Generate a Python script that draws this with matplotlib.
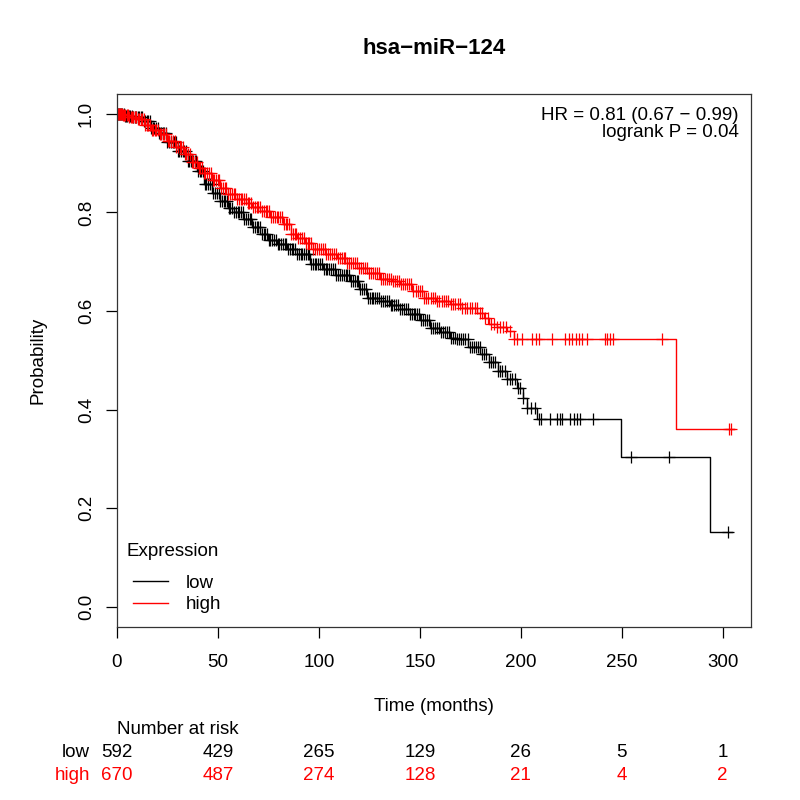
import numpy as np
import matplotlib
matplotlib.use("Agg")
import matplotlib.pyplot as plt
from matplotlib.lines import Line2D
from matplotlib.transforms import blended_transform_factory

plt.rcParams['font.family'] = ['Liberation Sans', 'DejaVu Sans']

# KM curve for "low" expression (black)
low_t = [0, 4, 8, 13, 17, 21, 25, 30, 35, 39.5, 43, 47, 51, 55, 58, 62.5, 67, 71, 75, 79,
         84, 89, 95.7, 102, 108, 115.5, 120, 124, 130, 135, 140, 145, 150, 155, 160, 165,
         168.5, 174, 180, 184, 188.5, 193, 198, 201, 203, 208, 249.5, 293.7, 304.8]
low_s = [1.0, 0.996, 0.993, 0.986, 0.972, 0.96, 0.943, 0.925, 0.905, 0.884, 0.857, 0.84,
         0.823, 0.808, 0.8, 0.787, 0.77, 0.756, 0.745, 0.736, 0.726, 0.716, 0.696, 0.686,
         0.674, 0.661, 0.645, 0.627, 0.62, 0.612, 0.604, 0.593, 0.582, 0.566, 0.558, 0.546,
         0.543, 0.528, 0.513, 0.496, 0.479, 0.462, 0.444, 0.424, 0.404, 0.381, 0.305, 0.152,
         0.152]

# KM curve for "high" expression (red)
high_t = [0, 3, 6, 10, 14, 17, 21, 25, 29, 33, 37, 40, 43, 47, 51, 55, 59.5, 64, 67, 71,
          76, 82, 86, 89, 93, 97, 103, 109, 114, 119, 124, 130.5, 136, 140, 146, 152, 158,
          165, 171, 178.5, 182, 184, 188, 193, 196.5, 277, 305.5]
high_s = [1.0, 0.997, 0.994, 0.99, 0.978, 0.968, 0.959, 0.945, 0.932, 0.919, 0.902, 0.89,
          0.88, 0.865, 0.85, 0.838, 0.828, 0.818, 0.81, 0.803, 0.79, 0.777, 0.757, 0.749,
          0.737, 0.726, 0.716, 0.708, 0.698, 0.688, 0.678, 0.665, 0.66, 0.655, 0.64, 0.627,
          0.62, 0.615, 0.607, 0.596, 0.585, 0.574, 0.567, 0.56, 0.543, 0.361, 0.361]

# censoring times (dense band up to ~200 months, then sparse)
low_cens = [0.3, 0.8, 1.4, 2, 2.7, 3.3, 4, 4.6, 5.2, 6, 6.6, 7.3, 8, 8.7, 9.5, 10.2, 11,
            11.8, 12.5, 13.3, 14, 14.8, 15.5, 16.3, 17, 17.8, 18.5, 19.4, 20.2, 21, 21.8,
            22.6, 23.5, 24.3, 25, 25.9, 26.7, 27.5, 28.4, 29.2, 30, 30.9, 31.7, 32.5, 33.4,
            34.2, 35, 35.9, 36.7, 37.6, 38.4, 39.2, 40.1, 41, 41.8, 42.6, 43.5, 44.3, 45.2,
            46, 46.9, 47.7, 48.6, 49.4, 50.3, 51.1, 52, 52.8, 53.7, 54.5, 55.4, 56.2, 57.1,
            58, 58.8, 59.7, 60.5, 61.4, 62.2, 63.1, 64, 64.8, 65.7, 66.5, 67.4, 68.3, 69.1,
            70, 70.9, 71.7, 72.6, 73.5, 74.3, 75.2, 76, 76.9, 77.8, 78.6, 79.5, 80.4, 81.2,
            82.1, 83, 83.9, 84.7, 85.6, 86.5, 87.4, 88.2, 89.1, 90, 90.9, 91.8, 92.6, 93.5,
            94.4, 95.3, 96.2, 97, 97.9, 98.8, 99.7, 100.6, 101.5, 102.4, 103.3, 104.2, 105,
            106, 106.9, 107.8, 108.7, 109.6, 110.5, 111.4, 112.3, 113.2, 114.1, 115, 116,
            116.9, 117.8, 118.7, 119.6, 120.5, 121.5, 122.4, 123.3, 124.2, 125.2, 126.1,
            127, 128, 128.9, 129.8, 130.8, 131.7, 132.6, 133.6, 134.5, 135.5, 136.4, 137.3,
            138.3, 139.2, 140.2, 141.1, 142.1, 143, 144, 145, 145.9, 146.9, 147.8, 148.8,
            149.8, 150.7, 151.7, 152.7, 153.6, 154.6, 155.6, 156.6, 157.5, 158.5, 159.5,
            160.5, 161.5, 162.5, 163.5, 164.5, 165.5, 166.5, 167.5, 168.5, 169.5, 170.5,
            171.6, 172.6, 173.6, 174.6, 175.7, 176.7, 177.7, 178.8, 179.8, 180.9, 181.9,
            183, 184.1, 185.2, 186.3, 187.4, 188.5, 189.7, 190.8, 192, 193.2, 194.4, 195.7,
            197, 198.4, 199.8, 201.3, 203, 205, 207,
            208.9, 209.8, 214.4, 217.7, 219.3, 220.5, 224.6, 226.3, 228, 229.2, 235.9,
            254.4, 273.4, 302.8]
high_cens = [0.2, 0.6, 1, 1.5, 2, 2.5, 3, 3.6, 4.2, 4.8, 5.4, 6, 6.7, 7.4, 8.1, 8.8, 9.5,
             10.2, 11, 11.7, 12.5, 13.2, 14, 14.8, 15.5, 16.3, 17.1, 17.9, 18.7, 19.5, 20.3,
             21.1, 21.9, 22.7, 23.5, 24.4, 25.2, 26, 26.8, 27.7, 28.5, 29.3, 30.2, 31, 31.9,
             32.7, 33.6, 34.4, 35.3, 36.1, 37, 37.8, 38.7, 39.5, 40.4, 41.2, 42.1, 43, 43.8,
             44.7, 45.5, 46.4, 47.3, 48.1, 49, 49.9, 50.7, 51.6, 52.5, 53.3, 54.2, 55.1, 56,
             56.8, 57.7, 58.6, 59.5, 60.3, 61.2, 62.1, 63, 63.9, 64.7, 65.6, 66.5, 67.4,
             68.3, 69.2, 70, 70.9, 71.8, 72.7, 73.6, 74.5, 75.4, 76.3, 77.2, 78.1, 79, 79.9,
             80.8, 81.7, 82.6, 83.5, 84.4, 85.3, 86.2, 87.1, 88, 88.9, 89.8, 90.8, 91.7,
             92.6, 93.5, 94.4, 95.3, 96.3, 97.2, 98.1, 99, 100, 100.9, 101.8, 102.8, 103.7,
             104.6, 105.6, 106.5, 107.4, 108.4, 109.3, 110.3, 111.2, 112.2, 113.1, 114.1,
             115, 116, 116.9, 117.9, 118.9, 119.8, 120.8, 121.8, 122.7, 123.7, 124.7, 125.7,
             126.6, 127.6, 128.6, 129.6, 130.6, 131.6, 132.6, 133.6, 134.6, 135.6, 136.6,
             137.6, 138.6, 139.6, 140.7, 141.7, 142.7, 143.7, 144.8, 145.8, 146.8, 147.9,
             148.9, 150, 151, 152.1, 153.2, 154.2, 155.3, 156.4, 157.5, 158.6, 159.7,
             160.8, 161.9, 163, 164.1, 165.3, 166.4, 167.6, 168.7, 169.9, 171.1, 172.3,
             173.5, 174.7, 175.9, 177.2, 178.4, 179.7, 181, 182.3, 183.7, 185, 186.5, 188,
             189.5, 191, 192.7, 194.5,
             196.5, 198.2, 200.7, 205.6, 207.3, 208.9, 215.5, 222.1, 223.8, 225.4, 227.1,
             228.7, 230.4, 232.8, 241.5, 242.8, 244.1, 245.8, 270.1, 303, 304]

# number at risk table
risk_times = [0, 50, 100, 150, 200, 250, 300]
risk_low = [592, 429, 265, 129, 26, 5, 1]
risk_high = [670, 487, 274, 128, 21, 4, 2]

groups = ["low", "high"]
colors = ["black", "#FF0000"]
FS = 13.5

fig = plt.figure(figsize=(8, 8), dpi=100)
ax = fig.add_axes([117 / 800, 1 - 626.7 / 800, 634 / 800, 532.7 / 800])


def surv_at(t, ts, ss):
    idx = np.searchsorted(ts, t, side='right') - 1
    return np.asarray(ss)[idx]


for ts, ss, cens, col in [(low_t, low_s, low_cens, colors[0]),
                          (high_t, high_s, high_cens, colors[1])]:
    ax.plot(ts, ss, drawstyle='steps-post', color=col, lw=1)
    ax.plot(cens, surv_at(cens, ts, ss), ls='none', marker='+', color=col,
            markersize=9, mew=0.9)

ax.set_xlim(0, 314)
ax.set_ylim(-0.04, 1.04)
ax.set_xticks(risk_times)
ax.set_yticks([0, 0.2, 0.4, 0.6, 0.8, 1.0])
ax.set_yticklabels(["0.0", "0.2", "0.4", "0.6", "0.8", "1.0"], rotation=90, va='center')
ax.tick_params(axis='x', length=8, width=0.9, pad=12, labelsize=FS)
ax.tick_params(axis='y', length=8, width=0.9, pad=8, labelsize=FS)
for sp in ax.spines.values():
    sp.set_linewidth(0.9)
    sp.set_color('#333333')

fig.text(434 / 800, 1 - 48 / 800, "hsa\u2212miR\u2212124", ha='center', va='center',
         fontsize=16, fontweight='bold')
fig.text(38 / 800, 1 - 360 / 800, "Probability", rotation=90, ha='center', va='center',
         fontsize=FS)
fig.text(434 / 800, 1 - 706.7 / 800, "Time (months)", ha='center', va='center', fontsize=FS)

fig.text(738.5 / 800, 1 - 115 / 800, "HR = 0.81 (0.67 \u2212 0.99)", ha='right',
         va='center', fontsize=FS)
fig.text(738.5 / 800, 1 - 132.5 / 800, "logrank P = 0.04", ha='right', va='center',
         fontsize=FS)

# legend
fig.text(126.7 / 800, 1 - 552 / 800, "Expression", ha='left', va='center', fontsize=FS)
handles = [Line2D([], [], color=c, lw=1) for c in colors]
leg = ax.legend(handles, groups, loc='lower left', bbox_to_anchor=(0.0252, 0.025),
                frameon=False, fontsize=FS, handlelength=1.87, handletextpad=0.96,
                labelspacing=0.23, borderaxespad=0, borderpad=0)

# number at risk
tr = blended_transform_factory(ax.transData, fig.transFigure)
fig.text(117 / 800, 1 - 730 / 800, "Number at risk", ha='left', va='center', fontsize=FS)
for row_y, name, vals, col in [(752.7, groups[0], risk_low, colors[0]),
                               (775, groups[1], risk_high, colors[1])]:
    fig.text(90 / 800, 1 - row_y / 800, name, ha='right', va='center', fontsize=FS, color=col)
    for t, v in zip(risk_times, vals):
        ax.text(t, 1 - row_y / 800, str(v), transform=tr, ha='center', va='center',
                fontsize=FS, color=col, clip_on=False)

fig.savefig("out.png", dpi=100)
